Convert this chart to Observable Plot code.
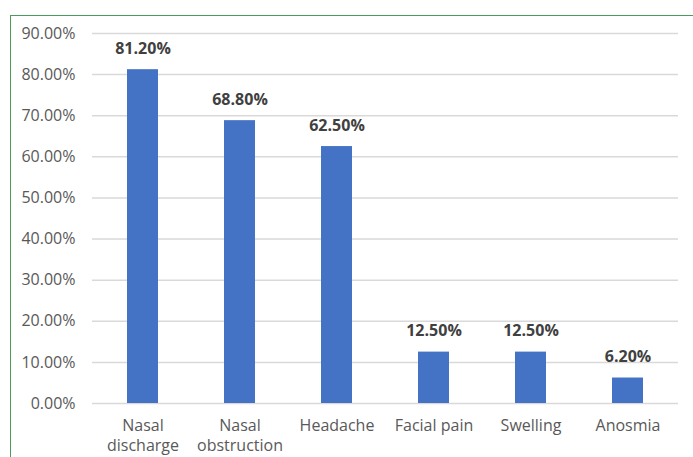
<!DOCTYPE html>
<html>
<head>
<meta charset="utf-8">
<script src="https://cdn.jsdelivr.net/npm/d3@7"></script>
<script src="https://cdn.jsdelivr.net/npm/@observablehq/plot@0.6"></script>
<style>
  html, body { margin: 0; padding: 0; background: #fff; overflow: hidden; }
  #wrap { position: relative; width: 693px; height: 457px; }
  #border { position: absolute; left: 10px; top: 15px; width: 720px; height: 480px; border: 1.5px solid #4c9a5c; box-sizing: border-box; pointer-events: none; }
  #chart { position: absolute; left: 0; top: 0; }
</style>
</head>
<body>
<div id="wrap"><div id="chart"></div><div id="border"></div></div>
<script>
const categories = ["Nasal\ndischarge", "Nasal\nobstruction", "Headache", "Facial pain", "Swelling", "Anosmia"];
const values = [81.2, 68.8, 62.5, 12.5, 12.5, 6.2];
const yTicks = [0, 10, 20, 30, 40, 50, 60, 70, 80, 90];

const data = categories.map((c, i) => ({category: c, value: values[i]}));

const chart = Plot.plot({
  width: 693,
  height: 457,
  marginLeft: 92,
  marginRight: 15,
  marginTop: 33,
  marginBottom: 54,
  style: {fontFamily: "'Open Sans', Lato, sans-serif", fontSize: "16px", background: "white"},
  x: {domain: categories, paddingInner: 0.68, paddingOuter: 0.34, label: null},
  y: {domain: [0, 90], ticks: yTicks, label: null},
  marks: [
    Plot.gridY(yTicks, {stroke: "#d9d9d9", strokeOpacity: 1, strokeWidth: 1.5}),
    Plot.axisY(yTicks, {tickSize: 0, tickPadding: 17, tickFormat: d => d.toFixed(2) + "%", fill: "#595959", fontSize: 16, label: null}),
    Plot.axisX({tickSize: 0, tickPadding: 13, fill: "#595959", fontSize: 16, lineHeight: 1.25, label: null}),
    Plot.barY(data, {x: "category", y: "value", fill: "#4472c4"}),
    Plot.text(data, {x: "category", y: "value", text: d => d.value.toFixed(2) + "%", dy: -21, fontWeight: "bold", fontSize: 16, fill: "#404040"})
  ]
});
document.getElementById("chart").appendChild(chart);
</script>
</body>
</html>
